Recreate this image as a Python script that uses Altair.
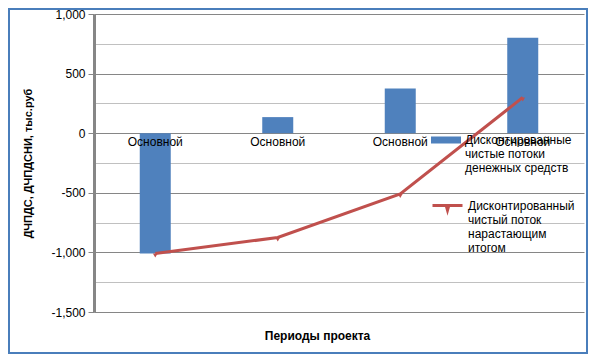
import altair as alt
import pandas as pd

# ---- data ----
periods = [1, 2, 3, 4]
period_label = "Основной"
dcf_values = [-1010, 135, 375, 800]          # discounted net cash flows (bars)
cum_values = [-1010, -875, -510, 300]         # cumulative discounted cash flow (line)
bar_name = "Дисконтированные|чистые потоки|денежных средств"
line_name = "Дисконтированный|чистый поток|нарастающим|итогом"
y_title = "ДЧПДС, ДЧПДСНИ, тыс.руб"
x_title = "Периоды проекта"

df = pd.DataFrame({
    "period": periods,
    "dcf": dcf_values,
    "cum": cum_values,
    "bar_series": [bar_name] * len(periods),
    "line_series": [line_name] * len(periods),
})

FONT = "Liberation Sans"
BLUE = "#4F81BD"
RED = "#C0504D"
GRID_MAJOR = "#868686"
GRID_MINOR = "#C0C0C0"

x_enc = alt.X(
    "period:O",
    scale=alt.Scale(paddingInner=0, paddingOuter=0),
    axis=alt.Axis(
        offset=-178.8, zindex=1,
        domain=False, ticks=False, tickSize=0, grid=False,
        labelExpr=f"'{period_label}'", labelAngle=0, labelOverlap=False,
        labelFont=FONT, labelFontSize=12, labelColor="#000000",
        labelPadding=3, labelBaseline="top",
        title=x_title, titleFont=FONT, titleFontSize=12, titleFontWeight="bold",
        titleColor="#000000", titleX=223, titleY=202, titleAnchor="middle",
        titleAlign="center", titleBaseline="middle",
    ),
)

y_scale = alt.Scale(domain=[-1500, 1000], nice=False, zero=False)
y_axis = alt.Axis(
    values=list(range(-1500, 1001, 250)),
    labelExpr="datum.value % 500 === 0 ? ((datum.value < 0 ? '-' : '') + format(abs(datum.value), ',')) : ''",
    grid=True,
    gridColor={"condition": {"test": "datum.value % 500 === 0", "value": GRID_MAJOR}, "value": GRID_MINOR},
    gridWidth=1,
    tickColor=GRID_MAJOR, tickSize=6, tickWidth=1,
    tickOpacity={"condition": {"test": "datum.value % 500 === 0", "value": 1}, "value": 0},
    domainColor=GRID_MAJOR, domainWidth=3,
    labelFont=FONT, labelFontSize=12, labelColor="#000000", labelPadding=3,
    title=y_title, titleFont=FONT, titleFontSize=11, titleFontWeight="bold",
    titleColor="#000000", titleX=-61, titleY=149, titleAngle=270,
    titleAlign="center", titleBaseline="bottom",
)

bars = alt.Chart(df).mark_bar(size=31).encode(
    x=x_enc,
    y=alt.Y("dcf:Q", scale=y_scale, axis=y_axis),
    fill=alt.Fill(
        "bar_series:N",
        scale=alt.Scale(domain=[bar_name], range=[BLUE]),
        legend=alt.Legend(
            title=None, orient="none", legendX=337, legendY=115, padding=0,
            symbolType="M-1,-0.5H1V-0.033H-1Z", symbolSize=900,
            symbolStrokeWidth=0, symbolFillColor=BLUE,
            labelExpr="split(datum.label, '|')", labelBaseline="alphabetic",
            labelFont=FONT, labelFontSize=12, labelColor="#000000",
            labelOffset=4, labelLimit=200,
        ),
    ),
)

line = alt.Chart(df).mark_line(strokeWidth=3).encode(
    x=x_enc,
    y=alt.Y("cum:Q", scale=y_scale, axis=y_axis),
    stroke=alt.Stroke(
        "line_series:N",
        scale=alt.Scale(domain=[line_name], range=[RED]),
        legend=alt.Legend(
            title=None, orient="none", legendX=337, legendY=179, padding=0,
            symbolType="M-1,-0.267H1M-0.07,-0.2L0.07,-0.2L0,0.05Z", symbolSize=900,
            symbolStrokeWidth=3, symbolFillColor=RED, symbolStrokeColor=RED,
            labelExpr="split(datum.label, '|')", labelBaseline="alphabetic",
            labelFont=FONT, labelFontSize=12, labelColor="#000000",
            labelOffset=4, labelLimit=200,
        ),
    ),
)

points = alt.Chart(df).mark_point(
    shape="triangle-down", filled=True, size=22, color=RED, opacity=1, yOffset=2
).encode(
    x=x_enc,
    y=alt.Y("cum:Q", scale=y_scale, axis=y_axis),
)

frame = alt.Chart(df).mark_rect(
    fillOpacity=0, stroke="#4A7EBB", strokeWidth=2
).encode(
    x=alt.value(-85), x2=alt.value(493), y=alt.value(-5), y2=alt.value(339)
)

chart = alt.layer(bars, line, points, frame).resolve_scale(
    fill="independent", stroke="independent"
).properties(
    width=490, height=298,
    autosize=alt.AutoSizeParams(type="none"),
    padding={"left": 86, "top": 6, "right": 4, "bottom": 42},
    background="#FFFFFF",
).configure_view(strokeWidth=0)

chart.save("out.html", embed_options={"renderer": "svg", "actions": False})
